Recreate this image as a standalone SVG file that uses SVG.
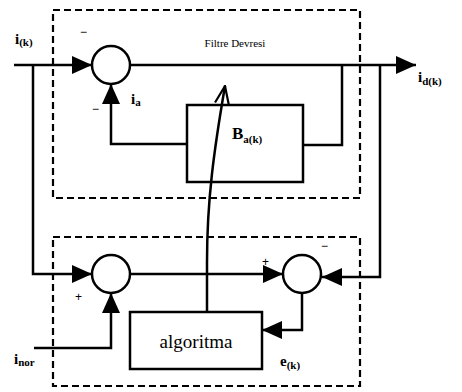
<svg xmlns="http://www.w3.org/2000/svg" width="462" height="392" viewBox="0 0 462 392">
  <style>
    .ln { fill: none; stroke: #000; stroke-width: 2.5; stroke-linejoin: miter; }
    .dash { fill: none; stroke: #000; stroke-width: 2.2; stroke-dasharray: 7 4; }
    .sum { fill: #fff; stroke: #000; stroke-width: 2.5; }
    .blk { fill: #fff; stroke: #000; stroke-width: 2.5; }
    .lbl { font-family: "Liberation Serif", "Times New Roman", serif; font-weight: bold; fill: #000; }
    .plain { font-family: "Liberation Serif", "Times New Roman", serif; font-weight: normal; fill: #000; }
    .sub { font-size: 11px; }
    .sign { font-family: "Liberation Sans", Arial, sans-serif; font-size: 12px; fill: #000; }
  </style>
  <defs>
    <marker id="arr" viewBox="0 0 20 18" refX="20" refY="9" markerWidth="20" markerHeight="18" markerUnits="userSpaceOnUse" orient="auto">
      <path d="M0,0 L20,9 L0,18 Z" fill="#000"/>
    </marker>
    <marker id="open" viewBox="0 0 20 18" refX="19" refY="9" markerWidth="20" markerHeight="18" markerUnits="userSpaceOnUse" orient="auto">
      <path d="M1,2 L19,9 L1,16" fill="none" stroke="#000" stroke-width="2.2"/>
    </marker>
  </defs>

  <!-- dashed enclosures -->
  <g id="filtre-devresi">
    <rect class="dash" x="53" y="10" width="307" height="188"/>
    <text class="plain" x="235" y="47" font-size="11" text-anchor="middle">Filtre Devresi</text>
  </g>
  <g id="kontrol">
    <rect class="dash" x="53" y="237" width="307" height="149"/>
  </g>

  <!-- summing junctions -->
  <g id="sum1">
    <circle class="sum" cx="111" cy="65" r="19"/>
    <text class="sign" x="80" y="36">−</text>
    <text class="sign" x="92" y="113">−</text>
  </g>
  <g id="sum2">
    <circle class="sum" cx="111" cy="274" r="19"/>
    <text class="sign" x="75" y="301">+</text>
  </g>
  <g id="sum3">
    <circle class="sum" cx="302" cy="274" r="19"/>
    <text class="sign" x="262" y="266">+</text>
    <text class="sign" x="321" y="250">−</text>
  </g>

  <!-- blocks -->
  <g id="b-block">
    <rect class="blk" x="187" y="105" width="116" height="77"/>
    <text class="lbl" x="232" y="139" font-size="17">B<tspan class="sub" dy="4">a(k)</tspan></text>
  </g>
  <g id="algoritma">
    <rect class="blk" x="130" y="312" width="132" height="57"/>
    <text class="plain" x="196" y="348" font-size="19" text-anchor="middle">algoritma</text>
  </g>

  <!-- connectors -->
  <g id="connectors">
    <!-- input i(k) to summer 1 -->
    <path class="ln" d="M14,65 H92" marker-end="url(#arr)"/>
    <!-- branch down to summer 2 -->
    <path class="ln" d="M33,65 V274 H92" marker-end="url(#arr)"/>
    <!-- summer 1 output to i_d(k) -->
    <path class="ln" d="M130,65 H416" marker-end="url(#arr)"/>
    <!-- B block feedback to summer 1 -->
    <path class="ln" d="M342,65 V145 H303"/>
    <path class="ln" d="M187,144 H111 V84" marker-end="url(#arr)"/>
    <!-- output fed back to summer 3 -->
    <path class="ln" d="M380,65 V277 H322" marker-end="url(#arr)"/>
    <!-- summer 2 to summer 3 -->
    <path class="ln" d="M131,274 H283" marker-end="url(#arr)"/>
    <!-- i_nor to summer 2 -->
    <path class="ln" d="M34,348 H111 V293" marker-end="url(#arr)"/>
    <!-- error e(k) to algorithm -->
    <path class="ln" d="M302,293 V330 H262" marker-end="url(#arr)"/>
    <!-- algorithm adapts B -->
    <path class="ln" d="M207,312 V262 C207,200 214,150 225,86" marker-end="url(#open)"/>
  </g>

  <!-- signal labels -->
  <g id="labels">
    <text class="lbl" x="15" y="44" font-size="15">i<tspan class="sub" dy="2">(k)</tspan></text>
    <text class="lbl" x="131" y="104" font-size="15">i<tspan class="sub" dy="2">a</tspan></text>
    <text class="lbl" x="418" y="82" font-size="15">i<tspan class="sub" dy="3">d(k)</tspan></text>
    <text class="lbl" x="14" y="364" font-size="15">i<tspan class="sub" dy="2">nor</tspan></text>
    <text class="lbl" x="280" y="366" font-size="15">e<tspan class="sub" dy="3">(k)</tspan></text>
  </g>
</svg>
